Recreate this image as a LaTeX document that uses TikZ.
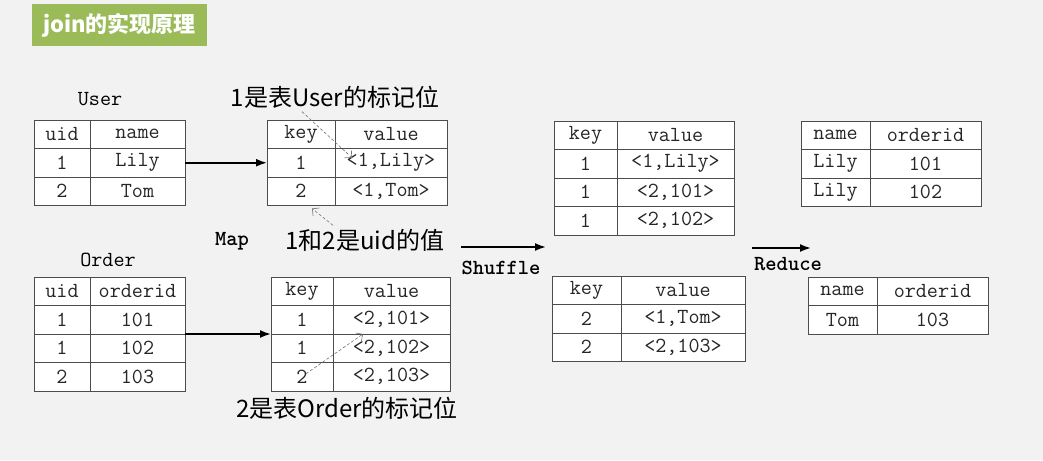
\documentclass[tikz,border=0pt]{standalone}
\usepackage{fontspec}
\newfontfamily\cjk{Noto Sans CJK SC}
\usepackage{xcolor}
\usepackage{tikz}
\usetikzlibrary{arrows.meta,positioning}

\definecolor{bggray}{HTML}{F2F2F2}
\definecolor{titlegreen}{HTML}{9BBB59}
\newcommand{\tabfont}{\ttfamily\fontsize{21.5}{21.5}\selectfont}
\newcommand{\notefont}{\cjk\fontsize{24}{24}\selectfont}

\tikzset{
  cell/.style={draw=black!70, line width=0.8pt, fill=white, text=black!85, inner sep=0pt, outer sep=0pt,
    minimum height=28.5pt, anchor=north west, font=\tabfont},
  flow/.style={line width=1.8pt, -{Latex[length=11pt,width=8pt]}},
  note/.style={densely dashed, black!55, line width=0.6pt, -{Straight Barb[length=5pt]}},
  phase/.style={font=\tabfont\bfseries},
}

\begin{document}
\begin{tikzpicture}[x=1pt,y=-1pt]
    % Background
    \fill[bggray] (0,0) rectangle (1043,460);
    \useasboundingbox (0,0) rectangle (1043,460);

    % Title
    \node[fill=titlegreen, text=white, minimum width=175pt, minimum height=42pt,
      font=\cjk\bfseries\fontsize{22}{22}\selectfont] (title) at (119.5,25) {join的实现原理};

    % User table
    \node[font=\tabfont] (userlbl) at (100,99) {User};
    \foreach \y/\a/\b [count=\i] in {120/uid/name, 148.5/1/Lily, 177/2/Tom}{
        \node[cell, minimum width=56] (ua\i) at (34,\y) {\a};
        \node[cell, minimum width=95] (ub\i) at (90,\y) {\b};
    }

    % Order table
    \node[font=\tabfont] (orderlbl) at (108,260) {Order};
    \foreach \y/\a/\b [count=\i] in {277/uid/orderid, 305.5/1/101, 334/1/102, 362.5/2/103}{
        \node[cell, minimum width=56] (oa\i) at (34,\y) {\a};
        \node[cell, minimum width=95] (ob\i) at (90,\y) {\b};
    }

    % Map output
    \foreach \y/\a/\b [count=\i] in {120/key/value, 148.5/1/{<1,Lily>}, 177/2/{<1,Tom>}}{
        \node[cell, minimum width=68] (mua\i) at (267,\y) {\a};
        \node[cell, minimum width=112] (mub\i) at (335,\y) {\b};
    }
    \foreach \y/\a/\b [count=\i] in {277/key/value, 305.5/1/{<2,101>}, 334/1/{<2,102>}, 362.5/2/{<2,103>}}{
        \node[cell, minimum width=62] (moa\i) at (271,\y) {\a};
        \node[cell, minimum width=117] (mob\i) at (333,\y) {\b};
    }

    % Shuffle output
    \foreach \y/\a/\b [count=\i] in {121/key/value, 149.5/1/{<1,Lily>}, 178/1/{<2,101>}, 206.5/1/{<2,102>}}{
        \node[cell, minimum width=63] (saa\i) at (554,\y) {\a};
        \node[cell, minimum width=117] (sab\i) at (617,\y) {\b};
    }
    \foreach \y/\a/\b [count=\i] in {276/key/value, 304.5/2/{<1,Tom>}, 333/2/{<2,103>}}{
        \node[cell, minimum width=69] (sba\i) at (552,\y) {\a};
        \node[cell, minimum width=124] (sbb\i) at (621,\y) {\b};
    }

    % Reduce output
    \foreach \y/\a/\b [count=\i] in {121/name/orderid, 149.5/Lily/101, 178/Lily/102}{
        \node[cell, minimum width=69] (raa\i) at (801,\y) {\a};
        \node[cell, minimum width=111] (rab\i) at (870,\y) {\b};
    }
    \foreach \y/\a/\b [count=\i] in {277/name/orderid, 305.5/Tom/103}{
        \node[cell, minimum width=69] (rba\i) at (808,\y) {\a};
        \node[cell, minimum width=111] (rbb\i) at (877,\y) {\b};
    }

    % Map arrows
    \draw[flow] (ub2.east) -- (mua2.west);
    \draw[flow] (ob2.south east) -- (moa2.south west);
    \node[phase] (map) at (232,241) {Map};

    % Shuffle and reduce
    \coordinate (shufstart) at (461,247);
    \coordinate (shufend) at (546,247);
    \draw[flow] (shufstart) -- (shufend);
    \node[phase] (shuffle) at (501,268) {Shuffle};
    \coordinate (redstart) at (752,248);
    \coordinate (redend) at (811,248);
    \draw[flow] (redstart) -- (redend);
    \node[phase] (reduce) at (788,264) {Reduce};

    % Notes
    \node[font=\notefont] (userflag) at (335,97) {1是表User的标记位};
    \node[font=\notefont] (uidval) at (365,240) {1和2是uid的值};
    \node[font=\notefont] (orderflag) at (347,408) {2是表Order的标记位};
    \draw[note] ([xshift=-33pt]userflag.south) -- ([shift={(17,-5)}]mub2.west);
    \draw[note] ([xshift=-32pt]uidval.north) -- ([shift={(11,3)}]mua3.south);
    \draw[note] ([shift={(4,-3)}]moa4.center) -- ([xshift=30pt]mob3.north west);
\end{tikzpicture}
\end{document}
